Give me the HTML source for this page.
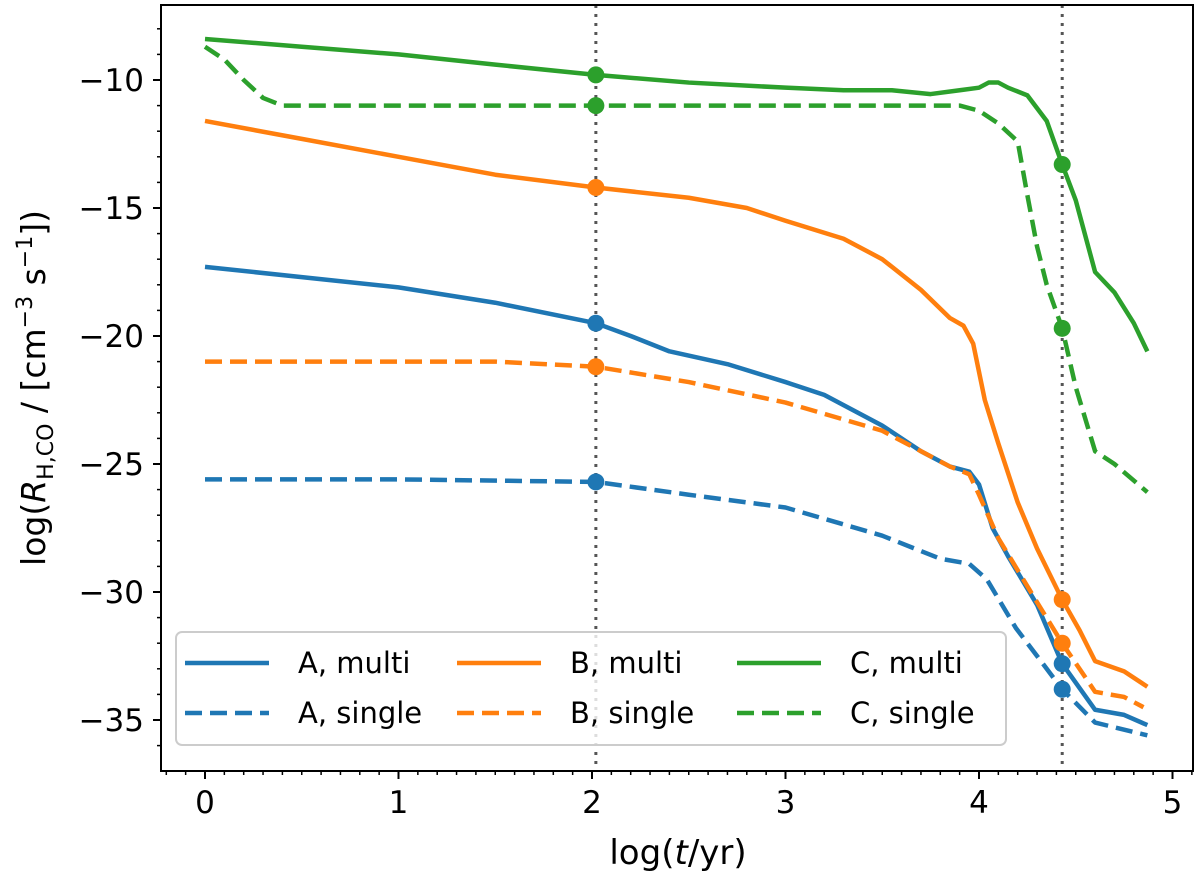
<!DOCTYPE html>
<html><head><meta charset="utf-8"><style>
body{margin:0;background:#fff}
svg text{font-family:"DejaVu Sans","Liberation Sans",sans-serif;fill:#000}
</style></head><body>
<svg id="chart" width="1200" height="879" viewBox="0 0 1200 879" xmlns="http://www.w3.org/2000/svg">
<g id="plot"></g>
<g id="axes"></g>
<g id="legend"></g>
</svg>
<script>
const xTicks=[0,1,2,3,4,5];
const yTicks=[-10,-15,-20,-25,-30,-35];
const vlines=[2.02,4.43];
const aMultiX=[0,0.5,1,1.5,2.02,2.2,2.4,2.7,3.0,3.2,3.5,3.7,3.85,3.95,4.0,4.07,4.15,4.3,4.43,4.6,4.75,4.87];
const aMultiY=[-17.3,-17.7,-18.1,-18.7,-19.5,-20.0,-20.6,-21.1,-21.8,-22.3,-23.5,-24.5,-25.1,-25.3,-25.8,-27.5,-28.6,-30.5,-32.8,-34.6,-34.8,-35.2];
const aSingleX=[0,1,2.02,2.5,3.0,3.5,3.8,3.95,4.04,4.19,4.43,4.6,4.87];
const aSingleY=[-25.6,-25.6,-25.7,-26.2,-26.7,-27.8,-28.7,-28.9,-29.5,-31.4,-33.8,-35.1,-35.6];
const bMultiX=[0,0.5,1,1.5,2.02,2.5,2.8,3.0,3.3,3.5,3.7,3.85,3.92,3.97,4.03,4.1,4.2,4.3,4.43,4.52,4.6,4.75,4.87];
const bMultiY=[-11.6,-12.3,-13.0,-13.7,-14.2,-14.6,-15.0,-15.5,-16.2,-17.0,-18.2,-19.3,-19.6,-20.3,-22.5,-24.2,-26.5,-28.3,-30.3,-31.5,-32.7,-33.1,-33.7];
const bSingleX=[0,1,1.5,2.02,2.5,3.0,3.5,3.85,3.95,4.0,4.1,4.3,4.43,4.6,4.75,4.85];
const bSingleY=[-21.0,-21.0,-21.0,-21.2,-21.8,-22.6,-23.7,-25.1,-25.4,-26.2,-27.9,-30.4,-32.0,-33.9,-34.1,-34.5];
const cMultiX=[0,0.5,1,1.5,2.02,2.5,3.0,3.3,3.55,3.75,3.9,4.0,4.05,4.1,4.15,4.25,4.35,4.43,4.5,4.6,4.7,4.8,4.87];
const cMultiY=[-8.4,-8.7,-9.0,-9.4,-9.8,-10.1,-10.3,-10.4,-10.4,-10.55,-10.4,-10.3,-10.1,-10.1,-10.3,-10.6,-11.6,-13.3,-14.7,-17.5,-18.3,-19.5,-20.6];
const cSingleX=[0,0.1,0.2,0.3,0.4,1,2.02,3,3.7,3.9,4.0,4.1,4.2,4.25,4.3,4.35,4.43,4.5,4.6,4.7,4.87];
const cSingleY=[-8.7,-9.2,-10.0,-10.7,-11.0,-11.0,-11.0,-11.0,-11.0,-11.0,-11.2,-11.7,-12.4,-14.5,-16.5,-18.0,-19.7,-22.0,-24.5,-25.0,-26.1];
const markerX=[2.02,2.02,2.02,2.02,2.02,2.02,4.43,4.43,4.43,4.43,4.43,4.43];
const markerY=[-19.5,-25.7,-14.2,-21.2,-9.8,-11.0,-32.8,-33.8,-30.3,-32.0,-13.3,-19.7];
const markerC=[0,0,1,1,2,2,0,0,1,1,2,2];

const colors=['#1f77b4','#ff7f0e','#2ca02c'];
const L=161,R=1193,T=5,B=771;
const xs=v=>205+v*193.5;
const ys=v=>80+(-10-v)*25.6;
const NS='http://www.w3.org/2000/svg';
function mk(tag,attrs,parent){const e=document.createElementNS(NS,tag);for(const k in attrs)e.setAttribute(k,attrs[k]);parent.appendChild(e);return e;}
const plot=document.getElementById('plot'),axes=document.getElementById('axes'),leg=document.getElementById('legend');

vlines.forEach(v=>{const l=mk('line',{x1:xs(v),x2:xs(v),y1:T,y2:B,stroke:'#555','stroke-width':3,'stroke-dasharray':'3,6'},plot);

});

const series=[[aMultiX,aMultiY,0,false,'a-multi-line'],[aSingleX,aSingleY,0,true,'a-single-line'],[bMultiX,bMultiY,1,false,'b-multi-line'],[bSingleX,bSingleY,1,true,'b-single-line'],[cMultiX,cMultiY,2,false,'c-multi-line'],[cSingleX,cSingleY,2,true,'c-single-line']];
series.forEach(s=>{const pts=s[0].map((x,i)=>xs(x)+','+ys(s[1][i])).join(' ');
const p=mk('polyline',{points:pts,fill:'none',stroke:colors[s[2]],'stroke-width':4.5,'stroke-linejoin':'round'},plot);
if(s[3])p.setAttribute('stroke-dasharray','17,8');

});

markerX.forEach((x,i)=>{const c=mk('circle',{cx:xs(x),cy:ys(markerY[i]),r:8.5,fill:colors[markerC[i]]},plot);

});

const frame=mk('rect',{x:L,y:T,width:R-L,height:B-T,fill:'none',stroke:'#000','stroke-width':2},axes);



for(let v=-0.2;v<=5.1;v+=0.1){const px=xs(v);if(px<L||px>R)continue;const major=Math.abs(v-Math.round(v))<0.01;
mk('line',{x1:px,x2:px,y1:B,y2:B+(major?8:4),stroke:'#000','stroke-width':major?2:1.5},axes);}
for(let v=-7;v>=-37;v--){const py=ys(v);if(py<T||py>B)continue;const major=v%5===0;
mk('line',{x1:L,x2:L-(major?8:4),y1:py,y2:py,stroke:'#000','stroke-width':major?2:1.5},axes);}
xTicks.forEach(v=>{const t=mk('text',{x:xs(v),y:B+42,'font-size':31,'text-anchor':'middle'},axes);t.textContent=v;

});
yTicks.forEach(v=>{const t=mk('text',{x:L-17,y:ys(v)+11,'font-size':31,'text-anchor':'end'},axes);t.textContent='\u2212'+Math.abs(v);

});

const xl=mk('text',{x:678,y:864,'font-size':34,'text-anchor':'middle'},axes);
xl.innerHTML='log(<tspan font-style="italic">t</tspan>/yr)';


const yl=mk('text',{x:0,y:0,'font-size':33,'text-anchor':'middle',transform:'translate(45,388) rotate(-90)'},axes);
yl.innerHTML='log(<tspan font-style="italic">R</tspan><tspan font-size="22" dy="8">H,CO</tspan><tspan dy="-8"> / [cm</tspan><tspan font-size="22" dy="-13">\u22123</tspan><tspan dy="13"> s</tspan><tspan font-size="22" dy="-13">\u22121</tspan><tspan dy="13">])</tspan>';



const box=mk('rect',{x:176,y:632,width:830,height:113,rx:6,fill:'#fff','fill-opacity':0.8,stroke:'#ccc','stroke-width':2},leg);


const labels=[['A, multi','A, single'],['B, multi','B, single'],['C, multi','C, single']];
const colX=[185,457,737];
labels.forEach((pair,ci)=>pair.forEach((lab,ri)=>{const y=ri?713:663;
const g=mk('g',{},leg);


const ln=mk('line',{x1:colX[ci],x2:colX[ci]+84,y1:y,y2:y,stroke:colors[ci],'stroke-width':4.5},g);
if(ri)ln.setAttribute('stroke-dasharray','17,8');
const t=mk('text',{x:colX[ci]+113,y:y+10,'font-size':29},g);t.textContent=lab;}));
</script>
</body></html>
